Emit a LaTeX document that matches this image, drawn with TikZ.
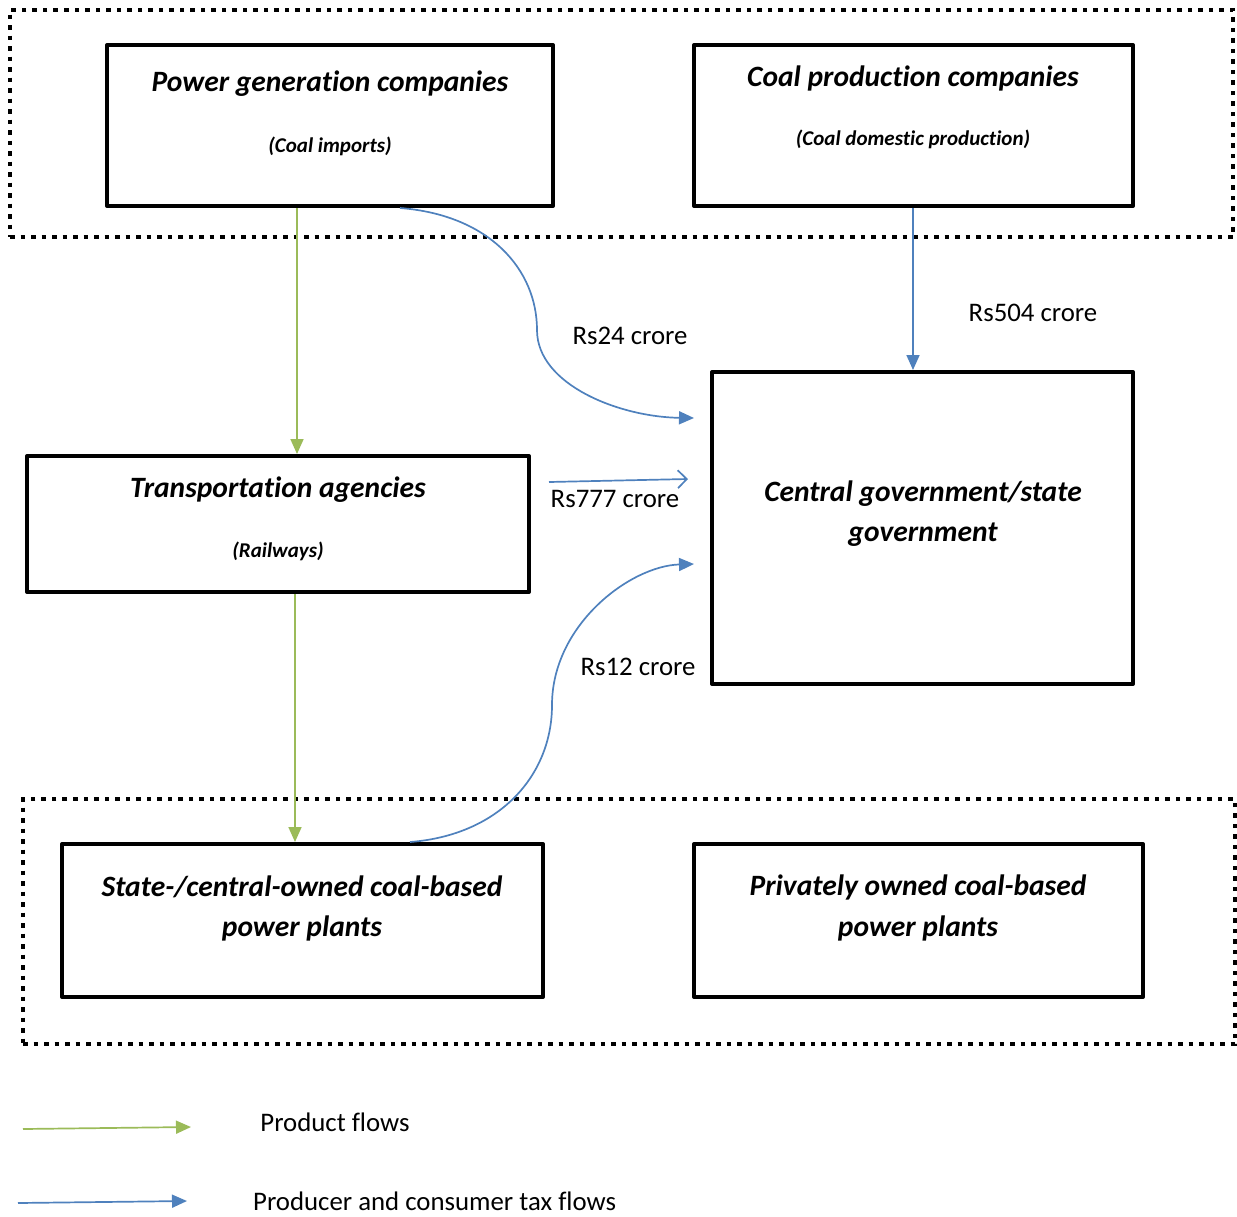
\documentclass[tikz,border=0pt]{standalone}
\usepackage{fontspec}
\setmainfont{Carlito}[Ligatures=NoCommon]
\usetikzlibrary{arrows.meta}
\definecolor{pgreen}{HTML}{9BBB59}
\definecolor{tblue}{HTML}{4F81BD}
\begin{document}
\begin{tikzpicture}[x=1pt,y=-1pt,
  box/.style={draw, line width=4pt, line join=round, inner sep=0pt},
  grp/.style={draw, line width=4.5pt, dash pattern=on 4.5pt off 6pt, inner sep=0pt},
  ttl/.style={font=\fontsize{29.5}{35}\selectfont\bfseries\itshape},
  subt/.style={font=\fontsize{21}{25}\selectfont\bfseries\itshape},
  lab/.style={font=\fontsize{26.8}{32}\selectfont},
  gflow/.style={draw=pgreen, line width=1.7pt, -{Triangle[length=15pt,width=13pt]}},
  bflow/.style={draw=tblue, line width=1.7pt, -{Triangle[length=15pt,width=13pt]}},
  bopen/.style={draw=tblue, line width=1.7pt, -{Straight Barb[length=9pt,width=18pt]}},
]
\useasboundingbox (0,0) rectangle (1237,1216);
% groups
\node[grp, minimum width=1223pt, minimum height=227pt] (gtop) at (621.5,123.5) {};
\node[grp, minimum width=1212pt, minimum height=245pt] (gbot) at (629,921.5) {};
% boxes
\node[box, minimum width=446pt, minimum height=161pt] (pg) at (330,125.5) {};
\node[box, minimum width=439pt, minimum height=161pt] (cp) at (913.5,125.5) {};
\node[box, minimum width=502pt, minimum height=136pt] (tr) at (278,524) {};
\node[box, minimum width=421pt, minimum height=312pt] (cg) at (922.5,528) {};
\node[box, minimum width=481pt, minimum height=153pt] (sp) at (302.5,920.5) {};
\node[box, minimum width=449pt, minimum height=153pt] (pp) at (918.5,920.5) {};
% texts
\node[ttl] (pgt) at (330,84) {Power generation companies};
\node[subt] (pgs) at (330,146) {(Coal imports)};
\node[ttl] (cpt) at (913,78) {Coal production companies};
\node[subt] (cps) at (913,139) {(Coal domestic production)};
\node[ttl] (trt) at (278,490) {Transportation agencies};
\node[subt] (trs) at (278,551) {(Railways)};
\node[ttl] (cgt1) at (923,494) {Central government/state};
\node[ttl] (cgt2) at (923,535) {government};
\node[ttl] (spt1) at (302,887) {State-/central-owned coal-based};
\node[ttl] (spt2) at (302,928) {power plants};
\node[ttl] (ppt1) at (918,887) {Privately owned coal-based};
\node[ttl] (ppt2) at (918,928) {power plants};
% flow labels
\node[lab] (l24) at (630,336) {Rs24 crore};
\node[lab] (l504) at (1033,313) {Rs504 crore};
\node[lab] (l777) at (615,499) {Rs777 crore};
\node[lab] (l12) at (638,667) {Rs12 crore};
% connector ends
\coordinate (e24) at (694,418);
\coordinate (s777) at (549,482);
\coordinate (e777) at (688,479);
\coordinate (e12) at (694,564);
% arrows
\draw[gflow] ([xshift=-33pt]pg.south) -- ([xshift=19pt]tr.north);
\draw[gflow] ([xshift=17pt]tr.south) -- ([xshift=-7.5pt]sp.north);
\draw[bflow] ([xshift=-0.5pt]cp.south) -- ([xshift=-9.5pt]cg.north);
\draw[bflow] ([xshift=70pt]pg.south) .. controls (490,215) and (537,270) .. (537,330) .. controls (537,385) and (620,417) .. (e24);
\draw[bopen] (s777) -- (e777);
\draw[bflow] ([xshift=107.5pt]sp.north) .. controls (500,835) and (552,775) .. (552,705) .. controls (552,625) and (630,566) .. (e12);
% legend
\coordinate (lg1) at (23,1129);
\coordinate (lg2) at (191,1127);
\coordinate (lb1) at (18,1203);
\coordinate (lb2) at (187,1201);
\draw[gflow] (lg1) -- (lg2);
\draw[bflow] (lb1) -- (lb2);
\node[lab] (lgt) at (335,1122) {Product flows};
\node[lab, anchor=west, inner sep=0pt] (lbt) at (253,1201) {Producer and consumer tax flows};
\end{tikzpicture}
\end{document}
